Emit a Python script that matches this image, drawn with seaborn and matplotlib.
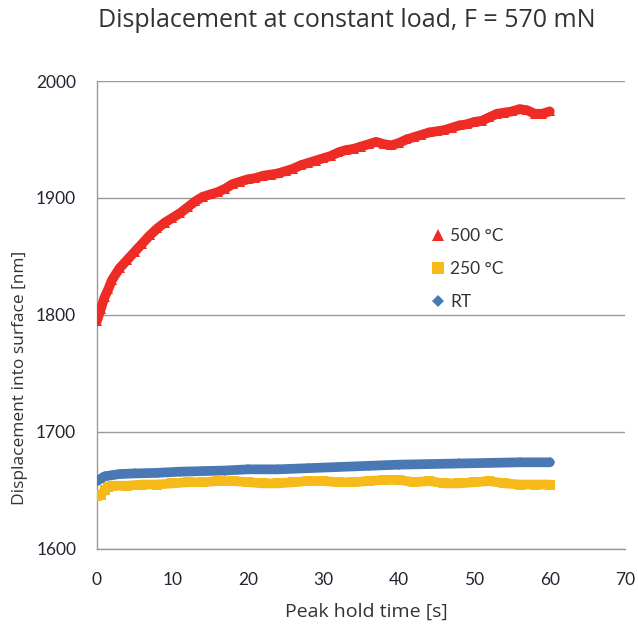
import numpy as np
import pandas as pd
import matplotlib
matplotlib.use("Agg")
import matplotlib.pyplot as plt
import seaborn as sns
from matplotlib.lines import Line2D

# ---- data ----
t_500 = [0, 0.5, 1, 1.5, 2, 3, 4, 5, 6, 7, 8, 9, 10, 11, 12, 13, 14, 15, 16, 17, 18, 19, 20,
         21, 22, 23, 24, 25, 26, 27, 28, 29, 30, 31, 32, 33, 34, 35, 36, 37, 38, 39, 40,
         41, 42, 43, 44, 45, 46, 47, 48, 49, 50, 51, 52, 53, 54, 55, 56, 57, 58, 59, 60]
d_500 = [1795, 1805, 1815, 1822, 1830, 1840, 1847, 1854, 1861, 1868, 1874, 1879, 1883, 1887,
         1892, 1897, 1901, 1903, 1905, 1908, 1912, 1914, 1916, 1917, 1919, 1920, 1921, 1923,
         1925, 1928, 1930, 1932, 1934, 1936, 1939, 1941, 1942, 1944, 1946, 1948, 1946, 1945,
         1947, 1950, 1952, 1954, 1956, 1957, 1958, 1960, 1962, 1963, 1965, 1966, 1969, 1972,
         1973, 1974, 1976, 1975, 1972, 1972, 1974]

t_250 = [0, 0.5, 1, 1.5, 2, 4, 6, 8, 10, 12, 14, 16, 18, 20, 22, 24, 26, 28, 30, 32, 34, 36,
         38, 40, 42, 44, 46, 48, 50, 52, 54, 56, 58, 60]
d_250 = [1645, 1646, 1650, 1653, 1654, 1654, 1655, 1655, 1656, 1657, 1657, 1658, 1658, 1657,
         1656, 1656, 1657, 1658, 1658, 1657, 1657, 1658, 1659, 1659, 1657, 1658, 1656, 1656,
         1657, 1658, 1656, 1655, 1655, 1655]

t_rt = [0, 0.5, 1, 2, 3, 5, 8, 11, 14, 17, 20, 24, 28, 32, 36, 40, 44, 48, 52, 56, 60]
d_rt = [1658, 1660, 1662, 1663, 1664, 1664.5, 1665, 1666, 1666.5, 1667, 1668, 1668, 1669,
        1670, 1671, 1672, 1672.5, 1673, 1673.5, 1674, 1674]

series_labels = ["500 °C", "250 °C", "RT"]
x_ticks = [0, 10, 20, 30, 40, 50, 60, 70]
y_ticks = [1600, 1700, 1800, 1900, 2000]

# ---- style ----
sns.set_style("white")
plt.rcParams['font.family'] = ['Open Sans', 'DejaVu Sans']
TXT = "#333333"
TICK_TXT = "#222633"
colors = {"500 °C": "#EE2B24", "250 °C": "#F6BA1B", "RT": "#4A78B5"}
markers = {"500 °C": "^", "250 °C": "s", "RT": "D"}

df = pd.concat([
    pd.DataFrame({"t": t_500, "d": d_500, "s": series_labels[0]}),
    pd.DataFrame({"t": t_250, "d": d_250, "s": series_labels[1]}),
    pd.DataFrame({"t": t_rt, "d": d_rt, "s": series_labels[2]}),
])

fig = plt.figure(figsize=(6.38, 6.28), dpi=100)
ax = fig.add_axes([0.152, 0.126, 0.828, 0.745])

for lab in series_labels:
    sub = df[df.s == lab]
    sns.lineplot(data=sub, x="t", y="d", ax=ax, color=colors[lab], linewidth=7,
                 marker=markers[lab], markersize=7 if lab != "RT" else 5,
                 markeredgewidth=0, solid_capstyle="round", legend=False, zorder=3)

ax.set_xlim(0, 70)
ax.set_ylim(1600, 2000)
ax.set_xticks(x_ticks)
ax.set_yticks(y_ticks)
ax.grid(axis="y", color="#9a9a9a", linewidth=1)
ax.grid(axis="x", visible=False)
for sp in ["top", "right"]:
    ax.spines[sp].set_visible(False)
for sp in ["left", "bottom"]:
    ax.spines[sp].set_color("#9a9a9a")
    ax.spines[sp].set_linewidth(1)
ax.tick_params(axis="both", which="both", direction="out", length=5, width=1,
               color="#9a9a9a", labelcolor=TICK_TXT, labelsize=12.5)
ax.tick_params(axis="x", pad=12)
ax.tick_params(axis="y", pad=10)
for lbl in ax.get_xticklabels() + ax.get_yticklabels():
    lbl.set_family(['Lato', 'DejaVu Sans'])

ax.set_xlabel("Peak hold time [s]", fontsize=14, color=TXT)
ax.set_ylabel("Displacement into surface [nm]", fontsize=12.5, color=TXT)
ax.xaxis.set_label_coords(0.51, -0.115)
ax.yaxis.set_label_coords(-0.13, 0.365)
fig.suptitle("Displacement at constant load, F = 570 mN", fontsize=18, color=TXT,
             y=0.988, x=0.543)

handles = [Line2D([], [], linestyle="none", marker=markers[l], color=colors[l],
                  markersize=9 if l != "RT" else 6, markeredgewidth=0) for l in series_labels]
leg = ax.legend(handles, series_labels, loc="upper left", bbox_to_anchor=(0.6, 0.72),
                frameon=False, handletextpad=0.2, labelspacing=1.0, fontsize=12.5,
                handlelength=1.0)
for txt in leg.get_texts():
    txt.set_color(TXT)
    txt.set_family(['Lato', 'DejaVu Sans'])

fig.savefig("out.png", dpi=100, facecolor="white")
